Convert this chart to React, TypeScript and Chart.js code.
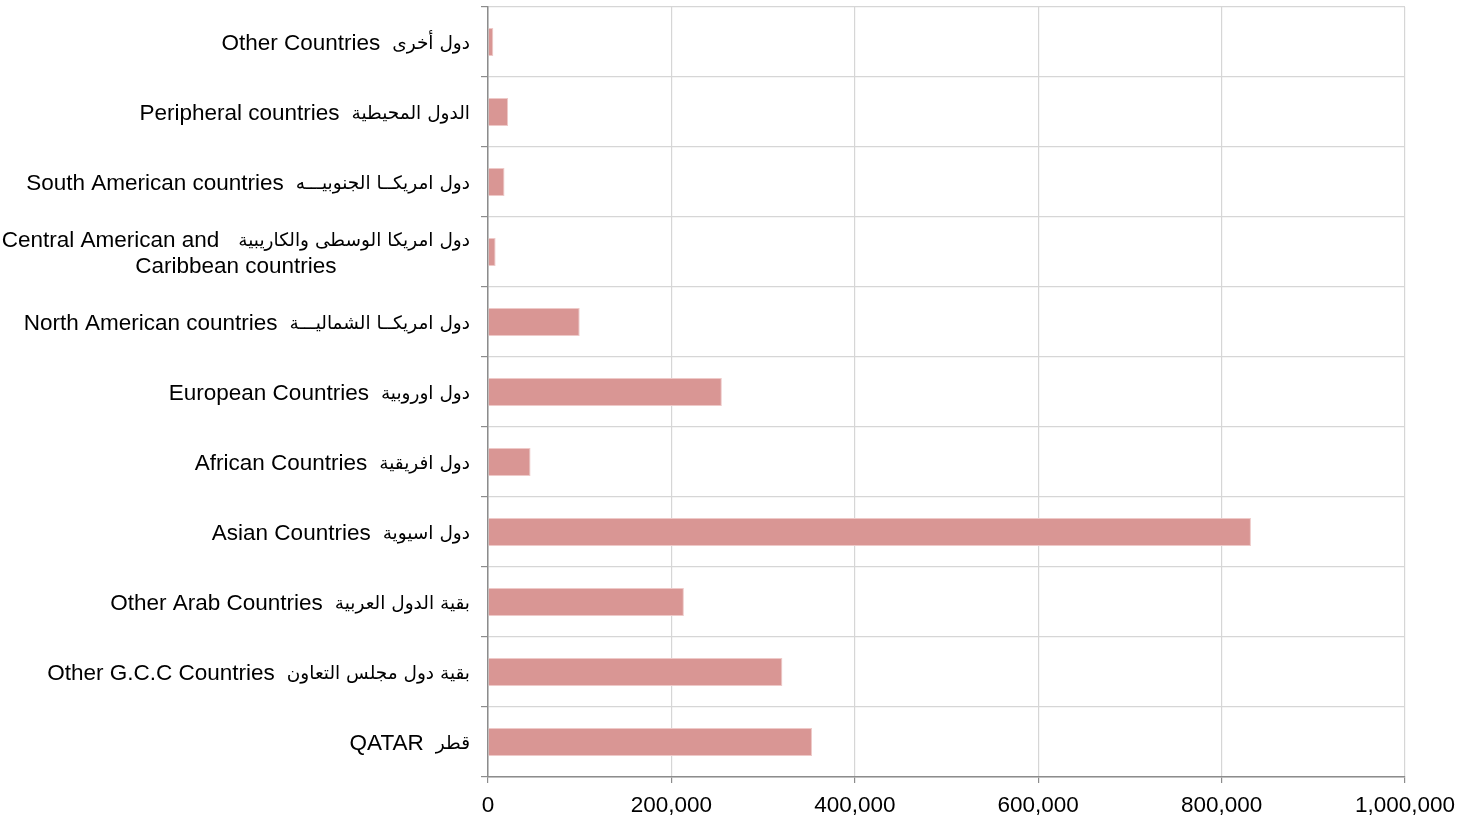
import React, { useEffect, useRef } from 'react';
import { Chart, registerables } from 'chart.js';

Chart.register(...registerables);

// Categories (top to bottom)
const categoriesEn: string[] = [
  'Other Countries',
  'Peripheral countries',
  'South American countries',
  'Central American and',
  'North American countries',
  'European Countries',
  'African Countries',
  'Asian Countries',
  'Other Arab Countries',
  'Other G.C.C Countries',
  'QATAR',
];

const categoriesAr: string[] = [
  'دول أخرى',
  'الدول المحيطية',
  'دول امريكــا الجنوبيـــه',
  'دول امريكا الوسطى والكاريبية',
  'دول امريكــا الشماليـــة',
  'دول اوروبية',
  'دول افريقية',
  'دول اسيوية',
  'بقية الدول العربية',
  'بقية دول مجلس التعاون',
  'قطر',
];

const secondLines: string[] = ['', '', '', 'Caribbean countries', '', '', '', '', '', '', ''];

const values: number[] = [5800, 22000, 18000, 8300, 100000, 255000, 46400, 832000, 213600, 321000, 353300];

const xTickValues: number[] = [0, 200000, 400000, 600000, 800000, 1000000];

const FONT_EN = '"Liberation Sans", Arial, sans-serif';
const FONT_AR = '"DejaVu Sans", sans-serif';
const EN_SIZE = 22.5;
const AR_SIZE = 18.5;
const LINE_H = 26;
const Y_TICK_LEN = 7;
const Y_PAD = 11;

const labelPlugin = {
  id: 'bilingualLabels',
  afterDraw(chart: any) {
    const yScale = chart.scales.y;
    const ctx = chart.ctx;
    const xRight = yScale.right - Y_TICK_LEN - Y_PAD;
    ctx.save();
    ctx.fillStyle = '#000';
    ctx.textBaseline = 'middle';
    categoriesEn.forEach((en, i) => {
      const yc = yScale.getPixelForTick(i) + 2;
      const two = !!secondLines[i];
      const y1 = two ? yc - LINE_H / 2 : yc;
      const gap = two ? 19 : 12;
      ctx.textAlign = 'right';
      ctx.font = `${AR_SIZE}px ${FONT_AR}`;
      const arW = ctx.measureText(categoriesAr[i]).width;
      ctx.fillText(categoriesAr[i], xRight, y1);
      ctx.font = `${EN_SIZE}px ${FONT_EN}`;
      const enRight = xRight - arW - gap;
      const enW = ctx.measureText(en).width;
      ctx.fillText(en, enRight, y1);
      if (two) {
        const left = enRight - enW;
        const center = (left + xRight) / 2;
        ctx.textAlign = 'center';
        ctx.fillText(secondLines[i], center, y1 + LINE_H);
      }
    });
    ctx.restore();
  },
};

export default function App() {
  const canvasRef = useRef<HTMLCanvasElement | null>(null);

  useEffect(() => {
    document.body.style.margin = '0';
    const ctx = canvasRef.current;
    if (!ctx) return;
    const chart = new Chart(ctx, {
      type: 'bar',
      data: {
        labels: categoriesEn,
        datasets: [
          {
            data: values,
            backgroundColor: '#d99694',
            borderColor: '#eec9c8',
            borderWidth: 1,
            barPercentage: 0.4,
            categoryPercentage: 1,
          },
        ],
      },
      plugins: [labelPlugin],
      options: {
        indexAxis: 'y',
        animation: false,
        responsive: true,
        maintainAspectRatio: false,
        layout: { padding: { top: 7, right: 56, left: 0, bottom: 0 } },
        plugins: {
          legend: { display: false },
          tooltip: { enabled: false },
        },
        scales: {
          x: {
            min: 0,
            max: 1000000,
            afterBuildTicks: (scale: any) => {
              scale.ticks = xTickValues.map((v) => ({ value: v }));
            },
            afterFit: (scale: any) => {
              scale.height = 42;
              scale.paddingLeft = 0;
              scale.paddingRight = 0;
            },
            grid: {
              color: '#d6d6d6',
              lineWidth: 1.2,
              tickLength: 6,
              tickColor: '#8c8c8c',
            },
            border: { color: '#8c8c8c', width: 1.5 },
            ticks: {
              color: '#000',
              padding: 9,
              maxRotation: 0,
              font: { family: FONT_EN, size: EN_SIZE },
              callback: (v: any) => Number(v).toLocaleString('en-US'),
            },
          },
          y: {
            afterFit: (scale: any) => {
              scale.width = 488;
              scale.paddingTop = 0;
              scale.paddingBottom = 0;
            },
            grid: {
              color: '#d6d6d6',
              lineWidth: 1.2,
              tickLength: Y_TICK_LEN,
              tickColor: '#8c8c8c',
              offset: true,
            },
            border: { color: '#8c8c8c', width: 1.5 },
            ticks: {
              display: false,
              autoSkip: false,
            },
          },
        },
      },
    });
    return () => chart.destroy();
  }, []);

  return (
    <div style={{ position: 'relative', width: 1461, height: 819 }}>
      <canvas ref={canvasRef} />
    </div>
  );
}
